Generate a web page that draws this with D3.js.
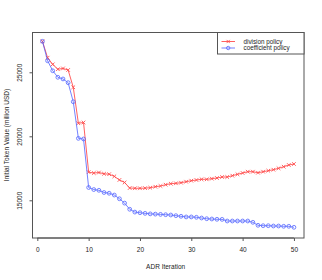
<!DOCTYPE html>
<html><head><meta charset="utf-8">
<script src="https://cdn.jsdelivr.net/npm/d3@7"></script>
<style>body{margin:0;background:#fff}svg{display:block}</style>
</head><body>
<script>
const iterations = d3.range(1, 51);
const divisionPolicy = [27420,26140,25620,25240,25300,25180,23830,21020,21080,17200,
  17130,17170,17070,17040,16870,16590,16390,15960,15940,15940,
  15950,15985,16060,16117,16219,16297,16328,16375,16453,16531,
  16586,16640,16640,16690,16742,16820,16820,16922,17030,17133,
  17234,17234,17156,17234,17313,17390,17500,17625,17758,17836];
const coefficientPolicy = [27420,25900,25120,24610,24480,24190,22700,19840,19790,16000,
  15840,15780,15610,15550,15410,15120,14780,14300,14080,14030,
  13980,13940,13920,13900,13875,13852,13800,13750,13700,13700,
  13672,13617,13562,13539,13516,13510,13383,13383,13383,13383,
  13383,13281,13047,13016,13016,12992,12992,12969,12969,12890];
const xTicks = [0,10,20,30,40,50];
const yTicks = [15000,20000,25000];
const seriesNames = ["division policy","coefficient policy"];
const seriesColors = ["#ff3030","#4a5cff"];

const W=322,H=280;
const svg=d3.select("body").append("svg").attr("width",W).attr("height",H);
const x=d3.scaleLinear().domain([-0.96,51.96]).range([32.4,304]);
const y=d3.scaleLinear().domain([12055,28148]).range([238,32]);
const font="Liberation Sans, Arial, sans-serif";

// box
svg.append("rect").attr("x",32.5).attr("y",32.5).attr("width",271.5).attr("height",205.5)
  .attr("fill","none").attr("stroke","#555").attr("stroke-width",1);

// x axis
const gx=svg.append("g").attr("transform","translate(0,238)");
gx.append("line").attr("x1",x(0)).attr("x2",x(50)).attr("stroke","#555");
const xa=d3.axisBottom(x).tickValues(xTicks).tickSize(3).tickSizeOuter(0).tickPadding(6);
gx.call(xa);
gx.select(".domain").remove();
gx.selectAll(".tick line").attr("stroke","#555");
gx.selectAll(".tick text").attr("font-family",font).attr("font-size",6.5).attr("fill","#222");

// y axis
const gy=svg.append("g").attr("transform","translate(32.5,0)");
const ya=d3.axisLeft(y).tickValues(yTicks).tickSize(3).tickFormat(d3.format("d"));
gy.call(ya);
gy.select(".domain").remove();
gy.selectAll(".tick line").attr("stroke","#555");
gy.selectAll(".tick text").attr("font-family",font).attr("font-size",6.5).attr("fill","#222")
  .attr("text-anchor","middle").attr("x",0).attr("dy",0)
  .attr("transform","translate(-10.5,0) rotate(-90)");

// titles
svg.append("text").attr("x",x(25)).attr("y",269).attr("text-anchor","middle")
  .attr("font-family",font).attr("font-size",6.5).attr("fill","#222").text("ADR Iteration");
svg.append("text").attr("transform",`translate(8.5,${(32+238)/2}) rotate(-90)`).attr("text-anchor","middle")
  .attr("font-family",font).attr("font-size",6.5).attr("fill","#222").text("Initial Token Value (million USD)");

const allSeries=[divisionPolicy,coefficientPolicy];
const line=d3.line().x((d,i)=>x(iterations[i])).y(d=>y(d));
allSeries.forEach((s,k)=>{
  const g=svg.append("g").attr("opacity",0.85);
  g.append("path").attr("d",line(s)).attr("fill","none").attr("stroke",seriesColors[k]).attr("stroke-width",0.9);
  s.forEach((v,i)=>{
    const cx=x(iterations[i]),cy=y(v);
    if(k===0){
      const r=1.8;
      g.append("path").attr("d",`M${cx-r},${cy-r}L${cx+r},${cy+r}M${cx-r},${cy+r}L${cx+r},${cy-r}`)
        .attr("stroke",seriesColors[k]).attr("stroke-width",0.9);
    } else {
      g.append("circle").attr("cx",cx).attr("cy",cy).attr("r",1.9).attr("fill","none")
        .attr("stroke",seriesColors[k]).attr("stroke-width",0.9);
    }
  });
});

// legend
const lg=svg.append("g");
lg.append("rect").attr("x",217.5).attr("y",32.5).attr("width",86.5).attr("height",21.5)
  .attr("fill","#fff").attr("stroke","#555");
seriesNames.forEach((n,k)=>{
  const ly=41.5+k*6.5;
  const gg=lg.append("g").attr("opacity",0.85);
  gg.append("line").attr("x1",221.5).attr("x2",235).attr("y1",ly).attr("y2",ly).attr("stroke",seriesColors[k]).attr("stroke-width",0.9);
  if(k===0){
    const r=1.6,cx=228.2,cy=ly;
    gg.append("path").attr("d",`M${cx-r},${cy-r}L${cx+r},${cy+r}M${cx-r},${cy+r}L${cx+r},${cy-r}`).attr("stroke",seriesColors[k]).attr("stroke-width",0.9);
  } else {
    gg.append("circle").attr("cx",228.2).attr("cy",ly).attr("r",1.7).attr("fill","none").attr("stroke",seriesColors[k]).attr("stroke-width",0.9);
  }
  lg.append("text").attr("x",243.5).attr("y",ly).attr("dy","0.35em").attr("font-family",font)
    .attr("font-size",6.3).attr("fill","#222").text(n);
});
</script>
</body></html>
